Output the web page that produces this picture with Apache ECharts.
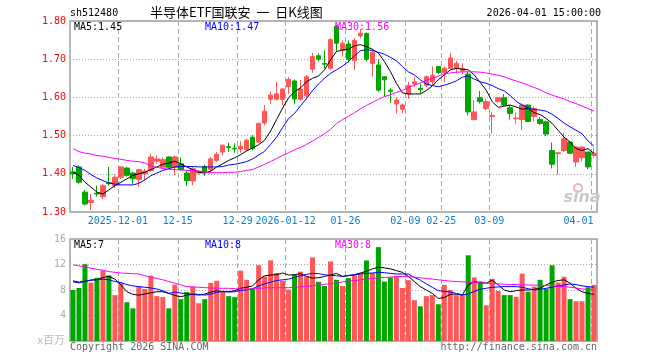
<!DOCTYPE html>
<html><head><meta charset="utf-8">
<script src="https://cdn.jsdelivr.net/npm/echarts@6/dist/echarts.min.js"></script>
<style>html,body{margin:0;padding:0;background:#fff}#c{width:660px;height:360px}</style>
</head><body><div id="c"></div>
<script>
const dates = [
'2025-11-19','2025-11-20','2025-11-21','2025-11-24','2025-11-25','2025-11-26','2025-11-27','2025-11-28',
'2025-12-01','2025-12-02','2025-12-03','2025-12-04','2025-12-05','2025-12-08','2025-12-09','2025-12-10','2025-12-11','2025-12-12',
'2025-12-15','2025-12-16','2025-12-17','2025-12-18','2025-12-19','2025-12-22','2025-12-23','2025-12-24','2025-12-25','2025-12-26',
'2025-12-29','2025-12-30','2025-12-31',
'2026-01-05','2026-01-06','2026-01-07','2026-01-08','2026-01-09',
'2026-01-12','2026-01-13','2026-01-14','2026-01-15','2026-01-16','2026-01-19','2026-01-20','2026-01-21','2026-01-22','2026-01-23',
'2026-01-26','2026-01-27','2026-01-28','2026-01-29','2026-01-30','2026-02-02','2026-02-03','2026-02-04','2026-02-05','2026-02-06',
'2026-02-09','2026-02-10','2026-02-11','2026-02-12','2026-02-13','2026-02-24',
'2026-02-25','2026-02-26','2026-02-27','2026-03-02','2026-03-03','2026-03-04','2026-03-05','2026-03-06',
'2026-03-09','2026-03-10','2026-03-11','2026-03-12','2026-03-13','2026-03-16','2026-03-17','2026-03-18','2026-03-19','2026-03-20',
'2026-03-23','2026-03-24','2026-03-25','2026-03-26','2026-03-27','2026-03-30','2026-03-31','2026-04-01'];

const tickDates = ['2025-12-01','2025-12-15','2025-12-29','2026-01-12','2026-01-26','2026-02-09','2026-02-25','2026-03-09','2026-04-01'];
const tickTexts = ['2025-12-01','12-15','12-29','2026-01-12','01-26','02-09','02-25','03-09','04-01'];

const openP = [1.405,1.418,1.352,1.325,1.349,1.340,1.377,1.369,1.391,1.415,
1.402,1.385,1.400,1.409,1.433,1.417,1.444,1.417,1.426,1.402,
1.381,1.402,1.419,1.411,1.435,1.457,1.471,1.467,1.465,1.463,
1.496,1.483,1.533,1.595,1.595,1.595,1.628,1.643,1.595,1.604,
1.674,1.709,1.689,1.676,1.786,1.723,1.740,1.696,1.761,1.767,
1.689,1.685,1.654,1.619,1.583,1.569,1.609,1.635,1.623,1.632,
1.641,1.681,1.665,1.676,1.676,1.670,1.661,1.542,1.599,1.571,
1.550,1.589,1.599,1.573,1.544,1.542,1.580,1.550,1.542,1.536,
1.461,1.453,1.461,1.483,1.431,1.442,1.457,1.448];
const closeP = [1.400,1.378,1.321,1.331,1.347,1.369,1.374,1.391,1.418,1.396,
1.387,1.411,1.407,1.444,1.439,1.437,1.417,1.444,1.411,1.382,
1.413,1.407,1.404,1.439,1.451,1.475,1.469,1.465,1.472,1.488,
1.466,1.532,1.564,1.606,1.609,1.622,1.647,1.596,1.622,1.654,
1.707,1.700,1.687,1.751,1.742,1.742,1.700,1.749,1.768,1.700,
1.718,1.619,1.646,1.616,1.593,1.580,1.631,1.641,1.620,1.654,
1.658,1.665,1.676,1.703,1.689,1.676,1.562,1.562,1.589,1.589,
1.553,1.599,1.580,1.558,1.546,1.580,1.537,1.571,1.532,1.504,
1.425,1.455,1.492,1.454,1.470,1.470,1.418,1.454];
const lowP = [1.387,1.374,1.317,1.305,1.340,1.334,1.369,1.363,1.387,1.392,
1.374,1.366,1.383,1.405,1.426,1.413,1.413,1.396,1.409,1.369,
1.370,1.398,1.395,1.405,1.431,1.448,1.457,1.455,1.455,1.461,
1.461,1.481,1.527,1.583,1.592,1.580,1.609,1.582,1.592,1.594,
1.664,1.694,1.676,1.672,1.720,1.707,1.691,1.672,1.755,1.694,
1.654,1.615,1.602,1.586,1.558,1.558,1.596,1.627,1.611,1.627,
1.632,1.661,1.639,1.674,1.663,1.660,1.553,1.539,1.584,1.567,
1.505,1.586,1.577,1.542,1.531,1.514,1.535,1.537,1.528,1.499,
1.414,1.398,1.457,1.452,1.418,1.433,1.412,1.442];
const highP = [1.418,1.422,1.358,1.347,1.369,1.374,1.418,1.398,1.419,1.418,
1.405,1.413,1.413,1.453,1.448,1.443,1.446,1.448,1.442,1.409,
1.418,1.410,1.424,1.444,1.457,1.476,1.481,1.480,1.485,1.492,
1.501,1.534,1.580,1.615,1.641,1.624,1.653,1.647,1.646,1.658,
1.716,1.716,1.723,1.755,1.790,1.749,1.749,1.755,1.779,1.770,
1.725,1.700,1.656,1.624,1.600,1.584,1.641,1.654,1.636,1.658,
1.681,1.682,1.681,1.716,1.696,1.689,1.667,1.593,1.617,1.597,
1.561,1.602,1.609,1.580,1.561,1.584,1.582,1.576,1.549,1.539,
1.482,1.457,1.507,1.486,1.470,1.472,1.457,1.467];

const ma5 = [1.404,1.396,1.378,1.365,1.352,1.347,1.358,1.369,1.378,1.387,
1.396,1.400,1.404,1.411,1.418,1.425,1.428,1.433,1.426,1.418,
1.411,1.404,1.402,1.407,1.418,1.426,1.435,1.442,1.450,1.460,
1.468,1.476,1.488,1.512,1.542,1.572,1.599,1.615,1.625,1.641,
1.650,1.656,1.672,1.698,1.720,1.724,1.726,1.735,1.738,1.733,
1.726,1.716,1.694,1.668,1.637,1.612,1.609,1.609,1.609,1.618,
1.630,1.646,1.659,1.672,1.676,1.674,1.672,1.659,1.639,1.619,
1.589,1.574,1.577,1.580,1.575,1.569,1.571,1.560,1.555,1.545,
1.532,1.514,1.496,1.483,1.466,1.461,1.466,1.453];
const ma10 = [1.422,1.416,1.409,1.398,1.389,1.382,1.376,1.373,1.371,1.371,
1.371,1.375,1.384,1.395,1.402,1.409,1.413,1.418,1.419,1.419,
1.419,1.418,1.418,1.418,1.418,1.419,1.423,1.425,1.428,1.432,
1.439,1.449,1.459,1.477,1.496,1.521,1.545,1.558,1.578,1.597,
1.618,1.635,1.650,1.663,1.672,1.682,1.694,1.709,1.722,1.725,
1.723,1.718,1.713,1.705,1.696,1.681,1.667,1.659,1.646,1.635,
1.631,1.628,1.632,1.637,1.643,1.653,1.656,1.648,1.641,1.637,
1.631,1.623,1.617,1.605,1.590,1.580,1.573,1.568,1.567,1.564,
1.556,1.545,1.533,1.523,1.514,1.505,1.486,1.472];
const ma30 = [1.466,1.458,1.454,1.452,1.448,1.446,1.443,1.440,1.438,1.435,
1.433,1.432,1.428,1.421,1.417,1.414,1.412,1.411,1.410,1.409,
1.408,1.407,1.404,1.403,1.403,1.403,1.404,1.404,1.406,1.409,
1.411,1.418,1.425,1.432,1.440,1.448,1.455,1.463,1.469,1.477,
1.486,1.495,1.505,1.516,1.532,1.542,1.551,1.560,1.570,1.579,
1.587,1.595,1.602,1.607,1.613,1.618,1.625,1.632,1.638,1.645,
1.650,1.656,1.661,1.664,1.666,1.667,1.667,1.667,1.666,1.664,
1.661,1.658,1.654,1.648,1.643,1.638,1.632,1.626,1.620,1.612,
1.606,1.601,1.596,1.589,1.584,1.577,1.571,1.564];

const vol = [8.0,8.32,12.05,9.17,9.92,11.04,10.3,7.2,9.07,6.08,
5.12,8.53,8.16,10.24,7.04,6.88,5.12,8.85,6.56,7.68,
8.53,5.92,6.56,9.12,9.44,7.73,7.04,6.88,11.04,9.6,
8.21,11.89,10.13,12.64,10.67,9.44,8.05,10.4,10.88,10.13,
13.12,9.28,8.64,12.48,9.6,8.64,9.87,10.35,10.61,12.64,
10.67,14.72,9.33,9.97,10.24,8.32,9.55,6.4,5.44,7.04,
7.2,5.76,8.8,8.0,7.2,7.2,13.44,9.97,9.33,5.6,
9.76,7.84,7.2,7.2,6.93,10.56,7.73,8.53,9.6,8.21,
11.89,9.17,10.08,6.56,6.24,6.24,8.43,8.8];
const vma5 = [9.44,9.23,9.39,9.55,9.6,9.97,10.13,9.71,8.8,7.73,
7.31,7.2,7.36,7.57,7.73,7.73,7.47,7.15,6.93,7.2,
7.31,7.2,7.36,7.68,7.89,7.73,7.73,7.89,8.27,8.43,
8.64,9.6,10.24,10.35,10.4,10.67,10.35,10.4,10.56,10.13,
9.87,9.92,10.13,10.35,10.61,10.13,10.24,10.4,10.67,10.93,
11.31,11.57,11.47,11.31,11.04,10.77,10.13,9.33,8.53,8.0,
7.47,6.67,6.83,7.31,7.36,7.2,8.8,9.28,9.17,9.07,
9.55,8.8,8.0,7.73,7.89,8.0,8.0,8.11,8.27,8.8,
9.23,9.49,9.6,9.07,8.27,7.73,7.47,7.31];
const vma10 = [9.28,9.12,9.33,9.55,9.65,9.71,9.6,9.33,9.17,8.85,
8.64,8.53,8.43,8.32,8.16,7.89,7.47,7.68,7.52,7.41,
7.36,7.31,7.2,7.36,7.63,7.79,7.68,7.73,7.95,8.0,
8.21,8.64,8.96,9.23,9.49,9.6,9.71,9.97,10.24,10.45,
10.61,10.56,10.4,10.29,10.24,10.13,10.29,10.4,10.51,10.61,
10.67,10.77,10.72,10.61,10.51,10.51,10.51,9.97,9.55,8.96,
8.43,7.89,7.79,7.68,7.47,7.25,7.36,7.79,8.11,8.27,
8.43,8.48,8.53,8.53,8.53,8.43,8.21,8.0,8.11,8.27,
8.43,8.64,8.8,8.96,8.85,8.64,8.53,8.43];
const vma30 = [11.95,11.79,11.63,11.41,11.25,11.09,10.88,10.77,10.67,10.61,
10.56,10.51,10.24,10.03,9.81,9.6,9.33,9.07,8.8,8.53,
8.48,8.43,8.37,8.32,8.27,8.27,8.27,8.21,8.16,8.11,
8.16,8.27,8.32,8.37,8.37,8.37,8.37,8.43,8.48,8.59,
8.64,8.75,8.91,8.96,9.07,9.28,9.39,9.49,9.6,9.71,
9.81,9.92,9.97,10.03,10.08,10.13,10.08,10.03,9.92,9.81,
9.71,9.6,9.49,9.39,9.33,9.28,9.23,9.17,9.12,9.07,
9.01,8.96,8.91,8.85,8.85,8.8,8.8,8.75,8.75,8.69,
8.64,8.59,8.53,8.43,8.32,8.16,8.11,8.0];

const UP = '#ff5757', DOWN = '#00a600';
const MONO = '"DejaVu Sans Mono", "Liberation Mono", monospace';
const CJK = '"Noto Sans CJK SC", sans-serif';
const last = a => a[a.length - 1];
const isTick = (i, v) => tickDates.indexOf(v) >= 0;

function txt(x, y, text, fill, align, size, family) {
  return {type: 'text', x: x, y: y, silent: true, z: 100,
    style: {text: text, fill: fill, align: align, verticalAlign: 'middle',
      fontSize: size, fontFamily: family}};
}

const chart = echarts.init(document.getElementById('c'));
chart.setOption({
  animation: false,
  backgroundColor: '#fff',
  grid: [
    {left: 70, top: 21, width: 527, height: 191, show: true, borderColor: '#a0a0a0', borderWidth: 1.5},
    {left: 70, top: 239, width: 527, height: 102, show: true, borderColor: '#a0a0a0', borderWidth: 1.5}
  ],
  xAxis: [
    {type: 'category', gridIndex: 0, data: dates, boundaryGap: true,
      axisLine: {show: false}, axisTick: {show: false},
      axisLabel: {interval: isTick, margin: 4, color: '#0a80d0', fontSize: 10, fontFamily: MONO,
        formatter: v => {
          const k = tickDates.indexOf(v);
          if (k < 0) return '';
          return (k === tickDates.length - 1 ? '{e|' : '{n|') + tickTexts[k] + '}';
        },
        rich: {
          n: {padding: [0, 6, 0, 0], color: '#0a80d0', fontSize: 10, fontFamily: MONO},
          e: {padding: [0, 31, 0, 0], color: '#0a80d0', fontSize: 10, fontFamily: MONO}
        }},
      splitLine: {show: true, interval: isTick, lineStyle: {color: '#aaa', type: [5, 3], width: 1}}},
    {type: 'category', gridIndex: 1, data: dates, boundaryGap: true,
      axisLine: {show: false}, axisTick: {show: false}, axisLabel: {show: false},
      splitLine: {show: true, interval: isTick, lineStyle: {color: '#aaa', type: [5, 3], width: 1}}}
  ],
  yAxis: [
    {type: 'value', gridIndex: 0, min: 1.3, max: 1.8, interval: 0.1,
      axisLine: {show: false}, axisTick: {show: false},
      axisLabel: {margin: 4, color: '#ff0000', fontSize: 10, fontFamily: MONO, formatter: v => v.toFixed(2)},
      splitLine: {show: true, lineStyle: {color: '#aaa', type: [1, 2], width: 1}}},
    {type: 'value', gridIndex: 1, min: 0, max: 16, interval: 4,
      axisLine: {show: false}, axisTick: {show: false},
      axisLabel: {margin: 4, color: '#aaa', fontSize: 10, fontFamily: MONO, formatter: v => v === 0 ? '' : String(v)},
      splitLine: {show: true, lineStyle: {color: '#aaa', type: [1, 2], width: 1}}}
  ],
  series: [
    {type: 'candlestick', xAxisIndex: 0, yAxisIndex: 0, barWidth: 5,
      data: dates.map((d, i) => [openP[i], closeP[i], lowP[i], highP[i]]),
      itemStyle: {color: UP, color0: DOWN, borderColor: UP, borderColor0: DOWN, borderWidth: 1}},
    {type: 'line', xAxisIndex: 0, yAxisIndex: 0, data: ma5, showSymbol: false, symbol: 'none', lineStyle: {color: '#000', width: 1}, z: 5},
    {type: 'line', xAxisIndex: 0, yAxisIndex: 0, data: ma10, showSymbol: false, symbol: 'none', lineStyle: {color: '#0000ff', width: 1}, z: 5},
    {type: 'line', xAxisIndex: 0, yAxisIndex: 0, data: ma30, showSymbol: false, symbol: 'none', lineStyle: {color: '#ff00ff', width: 1}, z: 5},
    {type: 'bar', xAxisIndex: 1, yAxisIndex: 1, barWidth: 5,
      data: vol.map((v, i) => ({value: v, itemStyle: {color: closeP[i] >= openP[i] ? UP : DOWN}}))},
    {type: 'line', xAxisIndex: 1, yAxisIndex: 1, data: vma5, showSymbol: false, symbol: 'none', lineStyle: {color: '#000', width: 1}, z: 5},
    {type: 'line', xAxisIndex: 1, yAxisIndex: 1, data: vma10, showSymbol: false, symbol: 'none', lineStyle: {color: '#0000ff', width: 1}, z: 5},
    {type: 'line', xAxisIndex: 1, yAxisIndex: 1, data: vma30, showSymbol: false, symbol: 'none', lineStyle: {color: '#ff00ff', width: 1}, z: 5}
  ],
  graphic: [
    txt(70, 13, 'sh512480', '#000', 'left', 10, MONO),
    txt(150, 12, '半导体ETF国联安  一  日K线图', '#000', 'left', 13, CJK),
    txt(601, 13, '2026-04-01 15:00:00', '#000', 'right', 10, MONO),
    txt(74, 27, 'MA5:' + last(ma5).toFixed(2), '#000', 'left', 10, MONO),
    txt(205, 27, 'MA10:' + last(ma10).toFixed(2), '#0000ff', 'left', 10, MONO),
    txt(335, 27, 'MA30:' + last(ma30).toFixed(2), '#ff00ff', 'left', 10, MONO),
    txt(74, 245, 'MA5:' + Math.round(last(vma5)), '#000', 'left', 10, MONO),
    txt(205, 245, 'MA10:' + Math.round(last(vma10)), '#0000ff', 'left', 10, MONO),
    txt(335, 245, 'MA30:' + Math.round(last(vma30)), '#ff00ff', 'left', 10, MONO),
    txt(65, 340, 'x百万', '#bbb', 'right', 11, CJK),
    txt(70, 347, 'Copyright 2026 SINA.COM', '#666', 'left', 10, MONO),
    txt(597, 347, 'http://finance.sina.com.cn', '#666', 'right', 10, MONO),
    {type: 'circle', silent: true, z: 1, shape: {cx: 578, cy: 188, r: 4}, style: {fill: 'none', stroke: '#eeb4b4', lineWidth: 2}},
    {type: 'text', x: 582, y: 198, silent: true, z: 1,
      style: {text: 'sina', fill: '#c8c8c8', align: 'center', verticalAlign: 'middle', fontSize: 16,
        fontWeight: 'bold', fontStyle: 'italic', fontFamily: '"DejaVu Sans", sans-serif'}}
  ]
});
</script>
</body></html>
